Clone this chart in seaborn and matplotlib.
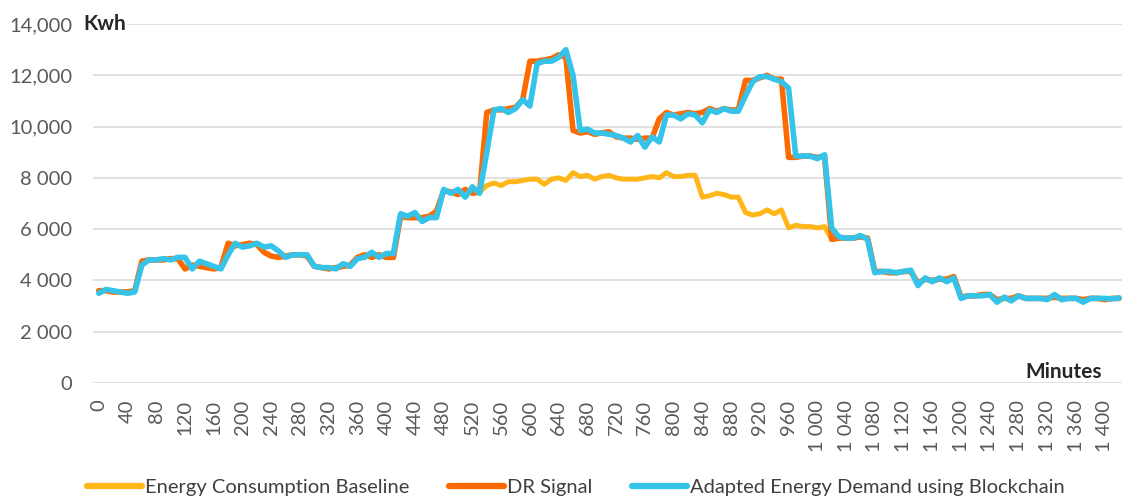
import numpy as np
import pandas as pd
import matplotlib
matplotlib.use('Agg')
import matplotlib.pyplot as plt
import seaborn as sns
from matplotlib.lines import Line2D

# time axis, one sample every 10 minutes
minutes = list(range(0, 1430, 10))

baseline = [
    3600, 3600, 3550, 3550, 3550, 3600, 4750, 4800, 4800, 4800,
    4850, 4850, 4450, 4600, 4550, 4500, 4450, 4500, 5450, 5350,
    5400, 5450, 5400, 5100, 4950, 4900, 4950, 5000, 5000, 4950,
    4550, 4500, 4450, 4500, 4550, 4600, 4900, 5000, 4900, 5000,
    4900, 4900, 6500, 6450, 6450, 6450, 6500, 6700, 7500, 7450,
    7350, 7550, 7400, 7450, 7700, 7800, 7700, 7850, 7850, 7900,
    7950, 7950, 7750, 7950, 8000, 7900, 8200, 8050, 8100, 7950,
    8050, 8100, 8000, 7950, 7950, 7950, 8000, 8050, 8000, 8200,
    8050, 8050, 8100, 8100, 7250, 7300, 7400, 7350, 7250, 7250,
    6650, 6550, 6600, 6750, 6600, 6750, 6050, 6150, 6100, 6100,
    6050, 6100, 5600, 5650, 5650, 5650, 5700, 5650, 4350, 4350,
    4300, 4300, 4350, 4350, 3900, 4050, 4000, 4050, 4050, 4150,
    3350, 3400, 3400, 3450, 3450, 3250, 3300, 3300, 3400, 3300,
    3300, 3300, 3300, 3350, 3300, 3300, 3300, 3250, 3300, 3300,
    3250, 3300, 3300,
]

dr_signal = [
    3600, 3600, 3550, 3550, 3550, 3600, 4750, 4800, 4800, 4800,
    4850, 4850, 4450, 4600, 4550, 4500, 4450, 4500, 5450, 5350,
    5400, 5450, 5400, 5100, 4950, 4900, 4950, 5000, 5000, 4950,
    4550, 4500, 4450, 4500, 4550, 4600, 4900, 5000, 4900, 5000,
    4900, 4900, 6500, 6450, 6450, 6450, 6500, 6700, 7500, 7450,
    7350, 7550, 7400, 7450, 10550, 10650, 10650, 10700, 10750, 11050,
    12550, 12550, 12600, 12650, 12800, 12700, 9850, 9750, 9800, 9700,
    9750, 9800, 9600, 9550, 9550, 9500, 9550, 9550, 10300, 10550,
    10450, 10500, 10550, 10500, 10550, 10700, 10600, 10700, 10650, 10650,
    11800, 11800, 11900, 12000, 11850, 11850, 8800, 8800, 8850, 8850,
    8800, 8850, 5600, 5650, 5650, 5650, 5700, 5650, 4350, 4350,
    4300, 4300, 4350, 4350, 3900, 4050, 4000, 4050, 4050, 4150,
    3350, 3400, 3400, 3450, 3450, 3250, 3300, 3300, 3400, 3300,
    3300, 3300, 3300, 3350, 3300, 3300, 3300, 3250, 3300, 3300,
    3250, 3300, 3300,
]

adapted = [
    3500, 3650, 3600, 3550, 3500, 3550, 4600, 4800, 4800, 4850,
    4800, 4900, 4900, 4450, 4750, 4650, 4550, 4450, 5000, 5450,
    5300, 5350, 5450, 5300, 5350, 5150, 4900, 5000, 5000, 5000,
    4550, 4500, 4500, 4450, 4650, 4550, 4850, 4900, 5100, 4900,
    5050, 5050, 6600, 6500, 6650, 6300, 6450, 6450, 7550, 7400,
    7550, 7250, 7650, 7400, 9000, 10650, 10700, 10550, 10700, 11050,
    10800, 12450, 12550, 12550, 12700, 13000, 12000, 9850, 9900, 9750,
    9750, 9700, 9650, 9550, 9400, 9650, 9200, 9600, 9400, 10450,
    10450, 10300, 10500, 10450, 10150, 10650, 10550, 10700, 10600, 10600,
    11200, 11750, 11950, 11950, 11850, 11750, 11500, 8850, 8850, 8850,
    8750, 8900, 6050, 5700, 5650, 5650, 5750, 5600, 4300, 4350,
    4350, 4300, 4350, 4400, 3800, 4100, 3950, 4100, 3950, 4100,
    3300, 3400, 3400, 3400, 3450, 3150, 3350, 3200, 3400, 3300,
    3300, 3300, 3250, 3450, 3250, 3300, 3300, 3150, 3300, 3300,
    3300, 3280, 3320,
]

series_names = ['Energy Consumption Baseline', 'DR Signal',
                'Adapted Energy Demand using Blockchain']
colors = ['#FFB619', '#FF6A00', '#35C3E9']

x_ticks = list(range(0, 1401, 40))
x_tick_labels = [f"{v:,}".replace(",", " ") for v in x_ticks]
y_ticks = [0, 2000, 4000, 6000, 8000, 10000, 12000, 14000]
y_tick_labels = ['0', '2 000', '4 000', '6 000', '8 000', '10,000', '12,000', '14,000']

# long-form table for seaborn
df = pd.concat([
    pd.DataFrame({'Minutes': minutes, 'Kwh': vals, 'Series': name})
    for name, vals in zip(series_names, [baseline, dr_signal, adapted])
], ignore_index=True)

sns.set_theme(style='white')
plt.rcParams['font.family'] = ['Lato', 'DejaVu Sans']

fig = plt.figure(figsize=(11.22, 4.96), dpi=100)
ax = fig.add_axes([0.0829, 0.2278, 0.9171, 0.7238])

palette = dict(zip(series_names, colors))
widths = dict(zip(series_names, [3.6, 4.0, 4.0]))
for name in series_names:
    sns.lineplot(data=df[df['Series'] == name], x='Minutes', y='Kwh',
                 color=palette[name], linewidth=widths[name],
                 solid_joinstyle='round', solid_capstyle='round',
                 legend=False, ax=ax)

ax.set_xlim(-8, 1424)
ax.set_ylim(0, 14000)
ax.set_xticks(x_ticks)
ax.set_xticklabels(x_tick_labels, rotation=90, fontsize=14.5, color='#595959')
ax.set_yticks(y_ticks)
ax.set_yticklabels(y_tick_labels, fontsize=14.5, color='#595959')
ax.tick_params(axis='x', length=0, pad=12)
ax.tick_params(axis='y', length=0, pad=15)
ax.set_xlabel('')
ax.set_ylabel('')
ax.yaxis.grid(True, color='#D9D9D9', linewidth=1.1)
ax.xaxis.grid(False)
ax.set_axisbelow(True)
for s in ax.spines.values():
    s.set_visible(False)

fig.text(83 / 1122, 1 - 24 / 496, 'Kwh', fontsize=15, fontweight='bold',
         va='center', ha='left',
         bbox=dict(facecolor='white', edgecolor='none', pad=1))
fig.text(1102 / 1122, 1 - 372 / 496, 'Minutes', fontsize=15, fontweight='bold',
         va='center', ha='right')

handles = [Line2D([0], [0], color=c, linewidth=4.5, solid_capstyle='round') for c in colors]
fig.legend(handles, series_names, loc='center', bbox_to_anchor=(576 / 1122, 1 - 487 / 496),
           ncol=3, frameon=False, fontsize=14.5, handlelength=2.7, handletextpad=0.15,
           columnspacing=2.0, labelcolor='#404040')

fig.savefig('out.png', dpi=100)
